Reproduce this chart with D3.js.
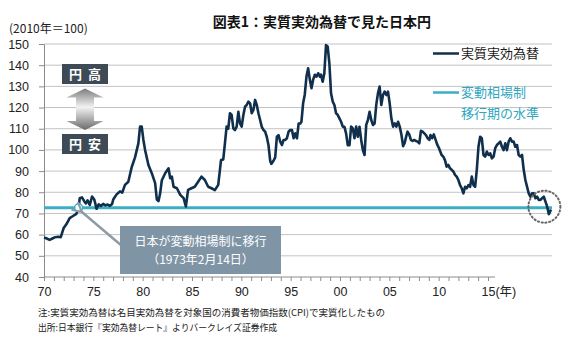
<!DOCTYPE html>
<html><head><meta charset="utf-8">
<script src="https://cdn.jsdelivr.net/npm/d3@7"></script>
<style>
html,body{margin:0;padding:0;background:#fff;}
svg{display:block;}
text{font-family:"Liberation Sans","Noto Sans CJK JP",sans-serif;}
.jp{font-family:"Noto Sans CJK JP","Liberation Sans",sans-serif;}
</style></head>
<body>
<script>
// ---- data ----
const years = [1970.0,1970.2,1970.5,1970.8,1971.0,1971.3,1971.5,1971.6,1971.75,1972.0,1972.3,1972.6,1972.9,1973.1,1973.2,1973.4,1973.6,1973.75,1973.9,1974.1,1974.3,1974.5,1974.6,1974.7,1974.9,1975.1,1975.3,1975.5,1975.7,1975.9,1976.1,1976.2,1976.5,1976.8,1977.0,1977.25,1977.55,1977.85,1978.15,1978.45,1978.6,1978.75,1978.9,1979.05,1979.35,1979.65,1979.95,1980.1,1980.25,1980.4,1980.55,1980.85,1981.15,1981.3,1981.45,1981.6,1981.9,1982.2,1982.5,1982.7,1982.9,1983.2,1983.5,1983.8,1984.1,1984.4,1984.7,1985.0,1985.3,1985.6,1985.85,1986.05,1986.2,1986.35,1986.5,1986.65,1986.8,1986.95,1987.1,1987.25,1987.4,1987.55,1987.7,1987.85,1988.0,1988.15,1988.3,1988.45,1988.6,1988.75,1988.9,1989.05,1989.2,1989.35,1989.5,1989.65,1989.8,1989.95,1990.1,1990.25,1990.35,1990.55,1990.7,1990.85,1991.0,1991.15,1991.3,1991.45,1991.6,1991.75,1991.9,1992.05,1992.2,1992.35,1992.5,1992.65,1992.8,1992.95,1993.05,1993.2,1993.35,1993.5,1993.65,1993.8,1993.95,1994.1,1994.25,1994.4,1994.55,1994.7,1994.8,1994.95,1995.1,1995.25,1995.4,1995.55,1995.7,1995.85,1996.0,1996.15,1996.3,1996.45,1996.6,1996.75,1996.9,1997.05,1997.2,1997.35,1997.5,1997.65,1997.8,1997.95,1998.1,1998.25,1998.4,1998.55,1998.7,1998.85,1999.0,1999.15,1999.3,1999.45,1999.6,1999.75,1999.9,2000.05,2000.2,2000.35,2000.5,2000.65,2000.8,2000.95,2001.1,2001.25,2001.4,2001.55,2001.7,2001.85,2002.0,2002.15,2002.3,2002.4,2002.55,2002.7,2002.85,2003.0,2003.15,2003.3,2003.45,2003.6,2003.75,2003.9,2004.05,2004.2,2004.35,2004.5,2004.6,2004.75,2004.9,2005.05,2005.2,2005.35,2005.6,2005.75,2005.9,2006.05,2006.2,2006.35,2006.5,2006.65,2006.8,2006.95,2007.1,2007.25,2007.4,2007.55,2007.7,2007.85,2008.0,2008.15,2008.3,2008.45,2008.6,2008.75,2008.9,2009.05,2009.2,2009.35,2009.5,2009.65,2009.8,2009.95,2010.1,2010.25,2010.4,2010.55,2010.7,2010.85,2011.0,2011.15,2011.3,2011.45,2011.6,2011.75,2011.9,2012.05,2012.2,2012.35,2012.5,2012.65,2012.8,2012.95,2013.1,2013.25,2013.4,2013.55,2013.7,2013.85,2014.0,2014.15,2014.3,2014.45,2014.6,2014.75,2014.9,2015.05,2015.2,2015.3,2015.4];
const reer = [58.6,58.3,57.5,58.3,58.8,59.0,58.8,60.5,63.0,64.9,67.8,68.8,69.8,72.6,77.2,77.6,75.8,74.7,76.2,74.0,78.0,76.6,74.5,72.2,74.3,73.5,74.5,73.8,74.2,73.6,74.5,76.6,79.0,80.4,79.8,83.5,85.0,91.8,96.5,103.1,111.0,111.0,104.7,100.0,92.9,89.0,84.3,76.6,75.8,79.5,85.7,89.0,91.3,86.6,87.4,82.6,81.9,78.8,77.2,73.3,81.1,81.9,82.6,85.0,87.4,85.8,82.6,81.9,81.0,83.5,95.2,95.5,103.1,111.0,110.0,117.3,116.5,110.2,109.4,111.0,118.0,112.5,111.0,116.5,120.4,121.2,122.8,122.0,117.3,118.9,123.6,121.2,117.3,114.1,110.9,109.4,108.6,106.1,102.2,94.9,93.4,94.9,96.5,106.2,107.0,103.9,102.3,104.7,104.7,105.5,108.6,109.4,109.4,105.5,107.8,105.5,112.5,112.5,113.3,122.0,126.2,134.6,138.5,133.2,129.1,133.2,135.5,134.6,136.2,134.6,135.5,132.2,136.2,149.5,148.7,140.9,126.7,122.8,121.2,117.3,116.5,114.9,113.3,111.0,110.9,107.7,102.2,102.2,111.0,110.2,105.5,111.0,106.2,110.9,104.7,99.9,97.6,111.8,114.1,118.0,114.1,111.8,112.5,121.4,126.7,129.9,121.2,125.9,127.5,125.9,127.5,122.0,114.9,111.0,112.5,111.0,113.3,111.0,107.3,101.8,103.4,105.8,108.6,107.3,104.7,104.2,104.7,104.2,103.9,103.1,109.0,108.6,107.8,107.0,105.5,104.7,107.0,105.5,107.3,105.0,102.6,101.0,97.6,96.8,95.2,92.1,92.9,91.3,90.6,89.8,88.2,87.4,85.8,83.4,81.9,79.5,82.6,81.9,83.4,82.6,87.4,83.4,82.6,90.6,101.5,106.2,105.5,97.6,96.8,99.2,97.6,98.4,96.0,96.8,100.8,102.3,103.1,103.9,101.5,99.9,103.1,99.9,103.9,105.5,103.9,103.9,101.5,102.3,97.6,96.8,97.6,90.6,85.8,82.6,79.5,77.9,79.5,79.5,77.2,77.9,76.4,76.4,77.2,77.9,75.6,73.2,69.7,70.8,71.8];
const floatLevel = 72.7;          // 変動相場制移行期の水準
const floatDate = 1973.1;         // 1973年2月14日
const yTicks = [40,50,60,70,80,90,100,110,120,130,140,150];
const xTickYears = d3.range(1970, 2016);
const xLabels = {1970:"70",1975:"75",1980:"80",1985:"85",1990:"90",1995:"95",2000:"00",2005:"05",2010:"10",2015:"15(年)"};
const title = "図表1：実質実効為替で見た日本円";
const unitLabel = "(2010年＝100)";
const seriesNames = ["実質実効為替", "変動相場制", "移行期の水準"];
const notes = ["注:実質実効為替は名目実効為替を対象国の消費者物価指数(CPI)で実質化したもの",
               "出所:日本銀行『実効為替レート』よりバークレイズ証券作成"];
const noteWidths = [347, 239];

// ---- layout ----
const W = 584, H = 337;
const L = 44, R = 552, T = 44, B = 277;
const svg = d3.select("body").append("svg").attr("width", W).attr("height", H);

const y = d3.scaleLinear().domain([40,150]).range([B, T]);
const xData = d3.scaleLinear().domain([1970, 2015]).range([L, 546.6]);
const xAxisScale = d3.scaleLinear().domain([1970, 2015]).range([L, 488]);

// gridlines
svg.append("g").selectAll("line").data(yTicks.filter(d=>d>40)).join("line")
  .attr("x1", L).attr("x2", R).attr("y1", d=>y(d)).attr("y2", d=>y(d))
  .attr("stroke", "#c3c3c3").attr("stroke-width", 1);

// y axis
const ya = svg.append("g").attr("transform", `translate(${L},0)`)
  .call(d3.axisLeft(y).tickValues(yTicks).tickSize(5).tickPadding(10).tickFormat(d3.format("d")));
ya.select(".domain").attr("stroke", "#8c8c8c");
ya.selectAll(".tick line").attr("stroke", "#8c8c8c");
ya.selectAll(".tick text").attr("font-size", 12.5).attr("fill", "#222")
  .attr("font-family", "Liberation Sans, sans-serif");

// x axis
const xa = svg.append("g").attr("transform", `translate(0,${B})`)
  .call(d3.axisBottom(xAxisScale).tickValues(xTickYears).tickSize(4).tickPadding(6)
    .tickFormat(d => xLabels[d] || ""));
xa.select(".domain").remove();
xa.append("line").attr("x1", L).attr("x2", 495).attr("stroke", "#8c8c8c");
xa.selectAll(".tick line").attr("stroke", "#8c8c8c");
xa.selectAll(".tick text").attr("font-size", 12.5).attr("fill", "#222")
  .attr("font-family", "Liberation Sans, Noto Sans CJK JP, sans-serif");
xa.selectAll(".tick text").filter(d => d === 2015).attr("text-anchor", "start").attr("dx", -7);

// float-level line
svg.append("line").attr("x1", L).attr("x2", R)
  .attr("y1", y(floatLevel)).attr("y2", y(floatLevel))
  .attr("stroke", "#3badc4").attr("stroke-width", 3);

// REER line
const line = d3.line().x((d,i)=>xData(years[i])).y(d=>y(d));
svg.append("path").datum(reer).attr("d", line).attr("fill", "none")
  .attr("stroke", "#0f2f4c").attr("stroke-width", 2.6).attr("stroke-linejoin", "round");

// marker at float date
svg.append("circle").attr("cx", xData(floatDate)).attr("cy", y(floatLevel)).attr("r", 4)
  .attr("fill", "#fff").attr("stroke", "#3badc4").attr("stroke-width", 1.5);

// dotted circle at the end
svg.append("circle").attr("cx", xData(2014.8)).attr("cy", y(73.2)).attr("r", 16)
  .attr("fill", "none").attr("stroke", "#666").attr("stroke-width", 2)
  .attr("stroke-dasharray", "1.2,2.6").attr("stroke-linecap", "round");

// annotation arrow
const defs = svg.append("defs");
defs.append("marker").attr("id", "ah").attr("viewBox", "0 0 12 12").attr("refX", 2).attr("refY", 6)
  .attr("markerWidth", 12).attr("markerHeight", 12).attr("markerUnits", "userSpaceOnUse").attr("orient", "auto")
  .append("path").attr("d", "M11,1 L2,6 L11,11").attr("fill", "none").attr("stroke", "#8d9ba6").attr("stroke-width", 2.2);
svg.append("line").attr("x1", 122).attr("y1", 246).attr("x2", xData(floatDate) + 3).attr("y2", y(floatLevel) + 4)
  .attr("stroke", "#8d9ba6").attr("stroke-width", 2.4).attr("marker-end", "url(#ah)");

// annotation box
svg.append("rect").attr("x", 120).attr("y", 226).attr("width", 161).attr("height", 48).attr("fill", "#7f95a6");
svg.append("text").attr("class", "jp").attr("x", 200.5).attr("y", 246).attr("text-anchor", "middle")
  .attr("font-size", 12).attr("fill", "#fff").text("日本が変動相場制に移行");
svg.append("text").attr("class", "jp").attr("x", 200.5).attr("y", 264).attr("text-anchor", "middle")
  .attr("font-size", 12).attr("fill", "#fff").text("（1973年2月14日）");

// 円高 / 円安 boxes and arrow
const grad = defs.append("linearGradient").attr("id", "ag").attr("x1", 0).attr("y1", 0).attr("x2", 0).attr("y2", 1);
grad.append("stop").attr("offset", "0%").attr("stop-color", "#7d7d7d");
grad.append("stop").attr("offset", "45%").attr("stop-color", "#f2f2f2");
grad.append("stop").attr("offset", "100%").attr("stop-color", "#6a6a6a");
const ax = 85, aTop = 88.5, aBot = 130;
svg.append("path").attr("fill", "url(#ag)")
  .attr("d", `M${ax},${aTop} L${ax+18.5},${aTop+9} L${ax+9},${aTop+9} L${ax+9},${aBot-9} L${ax+18.5},${aBot-9} L${ax},${aBot} L${ax-18.5},${aBot-9} L${ax-9},${aBot-9} L${ax-9},${aTop+9} L${ax-18.5},${aTop+9} Z`);
[["円高", 64], ["円安", 134]].forEach(([t, top]) => {
  svg.append("rect").attr("x", 62).attr("y", top).attr("width", 46).attr("height", 20).attr("fill", "#3e4a55");
  svg.append("text").attr("class", "jp").attr("x", 85 + 3).attr("y", top + 15).attr("text-anchor", "middle")
    .attr("font-size", 13).attr("font-weight", "bold").attr("letter-spacing", 6).attr("fill", "#fff").text(t);
});

// legend
svg.append("line").attr("x1", 433).attr("x2", 459).attr("y1", 53.5).attr("y2", 53.5)
  .attr("stroke", "#0f2f4c").attr("stroke-width", 2.5);
svg.append("text").attr("class", "jp").attr("x", 461).attr("y", 58).attr("font-size", 13)
  .attr("fill", "#1a1a1a").text(seriesNames[0]);
svg.append("line").attr("x1", 433).attr("x2", 459).attr("y1", 92.5).attr("y2", 92.5)
  .attr("stroke", "#3badc4").attr("stroke-width", 2.5);
svg.append("text").attr("class", "jp").attr("x", 461).attr("y", 97).attr("font-size", 13)
  .attr("fill", "#30a7c0").text(seriesNames[1]);
svg.append("text").attr("class", "jp").attr("x", 461).attr("y", 118).attr("font-size", 13)
  .attr("fill", "#30a7c0").text(seriesNames[2]);

// title and unit
svg.append("text").attr("class", "jp").attr("x", 322).attr("y", 27).attr("text-anchor", "middle")
  .attr("font-size", 14).attr("font-weight", "bold").attr("fill", "#111").text(title);
svg.append("text").attr("class", "jp").attr("x", 9).attr("y", 33).attr("font-size", 12)
  .attr("fill", "#222").text(unitLabel);

// notes
notes.forEach((n, i) => {
  svg.append("text").attr("class", "jp").attr("x", 38).attr("y", 316 + i*15).attr("font-size", 9.5)
    .attr("textLength", noteWidths[i]).attr("lengthAdjust", "spacingAndGlyphs")
    .attr("fill", "#222").text(n);
});
</script>
</body></html>
